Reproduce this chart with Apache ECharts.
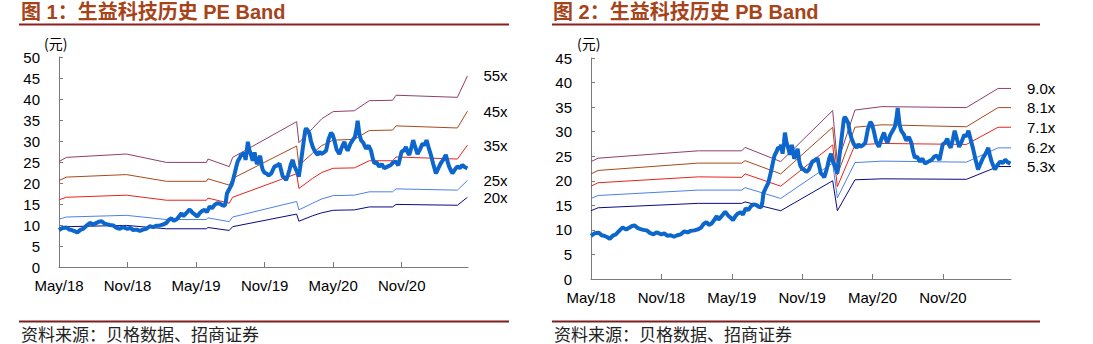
<!DOCTYPE html>
<html>
<head>
<meta charset="utf-8">
<script src="https://cdn.jsdelivr.net/npm/echarts@6/dist/echarts.min.js"></script>
<style>
  html, body { margin: 0; padding: 0; background: #fff; }
  #chart { width: 1093px; height: 344px; }
</style>
</head>
<body>
<div id="chart"></div>
<script>
// x 轴：以 2018 年 5 月为 0 的月份数
const tickLabels = ['May/18', 'Nov/18', 'May/19', 'Nov/19', 'May/20', 'Nov/20']
const tickMonths = [0, 6, 12, 18, 24, 30]

// 股价（元），[月份, 价格]
const price = [
  [0, 8.8], [0.3, 9.3], [0.67, 9.4], [0.9, 8.9], [1.11, 8.8], [1.4, 8.5], [1.6, 8.2], [1.9, 8.9],
  [2.12, 9.1], [2.4, 9.8], [2.7, 10.5], [3.0, 10.1], [3.29, 10.5], [3.5, 10.8], [3.73, 10.9], [3.95, 10.4],
  [4.17, 10.2], [4.45, 10.0], [4.75, 9.9], [5.0, 9.4], [5.33, 9.1], [5.6, 9.5], [6.0, 9.1], [6.25, 9.3],
  [6.49, 8.8], [6.8, 8.9], [7.07, 8.6], [7.35, 8.9], [7.66, 9.1], [7.95, 9.7], [8.24, 9.5], [8.5, 9.8],
  [8.82, 9.9], [9.1, 10.1], [9.4, 10.5], [9.6, 11.2], [9.84, 11.6], [10.05, 11.0], [10.28, 11.3], [10.5, 12.0],
  [10.72, 12.8], [10.85, 12.1], [11.0, 12.4], [11.2, 13.0], [11.44, 13.7], [11.7, 12.9], [11.94, 12.4], [12.1, 12.0],
  [12.31, 12.8], [12.5, 13.3], [12.75, 13.6], [12.95, 13.1], [13.19, 14.4], [13.4, 14.0], [13.62, 14.8], [13.85, 15.2],
  [14.06, 15.1], [14.3, 14.7], [14.5, 14.6], [14.6, 15.5], [14.7, 17.5], [14.93, 18.7], [15.1, 19.5], [15.23, 20.7],
  [15.4, 22.5], [15.52, 23.9], [15.65, 25.2], [15.81, 25.9], [15.95, 26.8], [16.1, 26.5], [16.2, 27.3], [16.33, 25.5],
  [16.45, 27.8], [16.53, 29.8], [16.65, 28.0], [16.83, 26.5], [16.95, 25.3], [17.12, 27.3], [17.32, 24.5], [17.45, 25.2],
  [17.61, 26.5], [17.75, 24.0], [17.84, 23.1], [18.0, 22.4], [18.14, 22.3], [18.35, 21.8], [18.58, 22.3], [18.86, 23.9],
  [19.1, 24.2], [19.3, 24.6], [19.45, 23.0], [19.59, 21.5], [19.75, 21.2], [19.88, 20.7], [20.05, 22.0], [20.17, 23.1],
  [20.3, 24.5], [20.46, 25.5], [20.6, 24.0], [20.7, 23.5], [20.85, 22.6], [20.99, 21.5], [21.1, 23.5], [21.2, 25.5],
  [21.4, 29.5], [21.55, 32.5], [21.63, 33.0], [21.75, 32.6], [21.92, 31.8], [22.05, 30.0], [22.21, 28.6], [22.4, 27.5],
  [22.65, 26.7], [22.8, 27.5], [22.94, 26.9], [23.15, 27.2], [23.38, 27.7], [23.6, 30.5], [23.81, 32.0], [23.95, 31.5],
  [24.1, 30.2], [24.3, 28.0], [24.54, 26.9], [24.75, 28.5], [24.98, 29.8], [25.1, 28.6], [25.27, 27.7], [25.5, 29.3],
  [25.71, 30.2], [25.9, 31.0], [26.05, 33.0], [26.14, 34.8], [26.3, 31.5], [26.44, 30.2], [26.65, 29.5], [26.87, 28.2],
  [27.1, 28.9], [27.31, 27.7], [27.45, 26.0], [27.6, 24.7], [27.8, 24.9], [28.03, 23.9], [28.25, 24.5], [28.47, 23.5],
  [28.75, 23.9], [29.05, 24.3], [29.25, 24.9], [29.49, 25.1], [29.7, 24.2], [29.98, 27.4], [30.2, 27.8], [30.37, 28.6],
  [30.5, 27.4], [30.66, 26.7], [30.85, 28.5], [31.0, 30.2], [31.2, 28.4], [31.38, 26.9], [31.6, 28.0], [31.82, 29.4],
  [32.0, 29.0], [32.17, 30.2], [32.35, 28.5], [32.55, 26.7], [32.75, 24.6], [32.99, 22.3], [33.2, 23.5], [33.42, 24.7],
  [33.65, 25.6], [33.86, 26.7], [34.0, 25.2], [34.15, 23.9], [34.3, 23.0], [34.43, 22.3], [34.65, 23.2], [34.87, 23.9],
  [35.1, 23.6], [35.31, 24.3], [35.5, 23.8], [35.75, 23.5]
]

// PE Band 拐点月份和各倍数价格
const peMonths = [0, 0.65, 5.9, 9.4, 12.9, 13.04, 14.9, 15.2, 20.8, 21.0, 22.2, 23.0, 24.0, 25.85, 27.16, 29.2, 29.5, 34.87, 35.75]
const pe55 = [25.1, 26.1, 26.9, 24.9, 24.9, 25.7, 23.9, 26.1, 34.6, 29.6, 33.0, 35.3, 37.0, 37.2, 39.6, 39.7, 40.9, 40.4, 45.5]
const pe45 = [20.6, 21.4, 22.0, 20.4, 20.4, 21.0, 19.5, 21.1, 28.8, 24.2, 27.1, 28.9, 30.2, 30.4, 32.5, 32.6, 33.6, 33.1, 37.1]
const pe35 = [16.0, 16.6, 17.1, 15.9, 15.9, 16.4, 15.2, 16.6, 22.2, 18.7, 21.1, 22.5, 23.5, 23.6, 25.3, 25.3, 26.2, 25.7, 29.0]
const pe25 = [11.4, 11.9, 12.3, 11.3, 11.3, 11.7, 10.8, 11.9, 15.6, 13.6, 15.2, 16.2, 17.0, 17.1, 17.9, 17.9, 18.6, 18.3, 20.6]
const pe20 = [9.2, 9.6, 9.9, 9.1, 9.1, 9.4, 8.7, 9.6, 12.6, 10.9, 12.2, 12.9, 13.5, 13.6, 14.3, 14.3, 14.9, 14.7, 16.6]

// PB Band 拐点月份和各倍数价格
const pbMonths = [0, 0.6, 9.15, 12.85, 13.13, 16.17, 20.6, 21.0, 22.5, 24.8, 32.0, 34.7, 35.8]
const pb90 = [23.9, 24.6, 26.1, 26.1, 26.8, 23.9, 34.3, 23.6, 34.4, 35.1, 34.9, 38.8, 38.8]
const pb81 = [21.4, 22.1, 23.6, 23.6, 24.1, 21.4, 30.9, 21.2, 30.9, 31.4, 31.0, 34.9, 34.9]
const pb71 = [18.9, 19.6, 20.8, 20.7, 21.4, 18.9, 27.3, 18.8, 27.3, 27.6, 27.4, 30.9, 30.9]
const pb62 = [16.4, 17.0, 18.1, 18.1, 18.6, 16.4, 23.6, 16.5, 23.7, 24.0, 23.8, 26.7, 26.7]
const pb53 = [13.9, 14.5, 15.4, 15.4, 15.7, 13.9, 20.0, 13.9, 20.2, 20.4, 20.3, 22.9, 22.9]

const bandColors = ['#8E3F6E', '#A64A1C', '#E8231C', '#4D80E6', '#0A0A80']
const priceColor = '#0C66CC'
const fontLatin = 'Liberation Sans, Arial, Noto Sans CJK SC'
const fontCJK = 'Noto Sans CJK SC'

const pair = (months, vals) => months.map((m, i) => [m, vals[i]])

const bandSeries = (gi, names, months, arrays) => arrays.map((vals, i) => ({
  name: names[i],
  type: 'line',
  xAxisIndex: gi,
  yAxisIndex: gi,
  data: pair(months, vals),
  symbol: 'none',
  lineStyle: { color: bandColors[i], width: 1 },
  endLabel: {
    show: true,
    formatter: names[i],
    distance: 16,
    color: '#000',
    fontSize: 15,
    fontFamily: fontLatin
  },
  z: 2,
  silent: true
}))

const xAxisBase = (gi) => ({
  type: 'value',
  gridIndex: gi,
  min: 0,
  max: 35.8,
  interval: 6,
  splitLine: { show: false },
  axisLine: { lineStyle: { color: '#7a7a7a', width: 1 } },
  axisTick: { inside: true, length: 5, customValues: tickMonths, lineStyle: { color: '#7a7a7a' } },
  axisLabel: {
    customValues: tickMonths,
    formatter: (v) => tickLabels[tickMonths.indexOf(Math.round(v))] || '',
    color: '#000',
    fontSize: 15,
    fontFamily: fontLatin,
    margin: 11
  }
})

const yAxisBase = (gi, max) => ({
  type: 'value',
  gridIndex: gi,
  min: 0,
  max: max,
  interval: 5,
  splitLine: { show: false },
  axisLine: { show: true, lineStyle: { color: '#7a7a7a', width: 1 } },
  axisTick: { show: true, inside: true, length: 4, lineStyle: { color: '#7a7a7a' } },
  axisLabel: { color: '#000', fontSize: 15, fontFamily: fontLatin, margin: 19 }
})

const textEl = (x, y, text, style) => ({
  type: 'text',
  x: x,
  y: y,
  style: Object.assign({ text: text, fill: '#000', textVerticalAlign: 'middle' }, style),
  silent: true
})

const lineEl = (x1, x2, y, color) => ({
  type: 'line',
  shape: { x1: x1, y1: y, x2: x2, y2: y },
  style: { stroke: color, lineWidth: 2 },
  silent: true
})

const chart = echarts.init(document.getElementById('chart'), null, { renderer: 'svg' })

const option = {
  animation: false,
  backgroundColor: '#fff',
  grid: [
    { left: 59, top: 57, width: 409, height: 210 },
    { left: 591, top: 58, width: 420, height: 221 }
  ],
  xAxis: [xAxisBase(0), xAxisBase(1)],
  yAxis: [yAxisBase(0, 50), yAxisBase(1, 45)],
  series: [
    ...bandSeries(0, ['55x', '45x', '35x', '25x', '20x'], peMonths, [pe55, pe45, pe35, pe25, pe20]),
    {
      name: '股价PE',
      type: 'line',
      xAxisIndex: 0,
      yAxisIndex: 0,
      data: price,
      symbol: 'none',
      lineStyle: { color: priceColor, width: 4 },
      z: 3,
      silent: true
    },
    ...bandSeries(1, ['9.0x', '8.1x', '7.1x', '6.2x', '5.3x'], pbMonths, [pb90, pb81, pb71, pb62, pb53]),
    {
      name: '股价PB',
      type: 'line',
      xAxisIndex: 1,
      yAxisIndex: 1,
      data: price,
      symbol: 'none',
      lineStyle: { color: priceColor, width: 4 },
      z: 3,
      silent: true
    }
  ],
  graphic: [
    // 标题
    textEl(21, 12, '图 1：生益科技历史 PE Band', { fill: '#A5441A', fontSize: 20, fontWeight: 'bold', fontFamily: fontLatin }),
    textEl(553, 12, '图 2：生益科技历史 PB Band', { fill: '#A5441A', fontSize: 20, fontWeight: 'bold', fontFamily: fontLatin }),
    lineEl(19, 509, 24.5, '#8E1F1F'),
    lineEl(552, 1040, 24.5, '#8E1F1F'),
    // 单位
    textEl(44, 43, '(元)', { fontSize: 14, fontFamily: fontCJK }),
    textEl(577, 43, '(元)', { fontSize: 14, fontFamily: fontCJK }),
    // 资料来源
    lineEl(19, 509, 321.5, '#7E1F1F'),
    lineEl(552, 1040, 321.5, '#7E1F1F'),
    textEl(21, 333, '资料来源：贝格数据、招商证券', { fill: '#222', fontSize: 17, fontFamily: fontCJK }),
    textEl(554, 333, '资料来源：贝格数据、招商证券', { fill: '#222', fontSize: 17, fontFamily: fontCJK })
  ]
}

chart.setOption(option)
</script>
</body>
</html>
